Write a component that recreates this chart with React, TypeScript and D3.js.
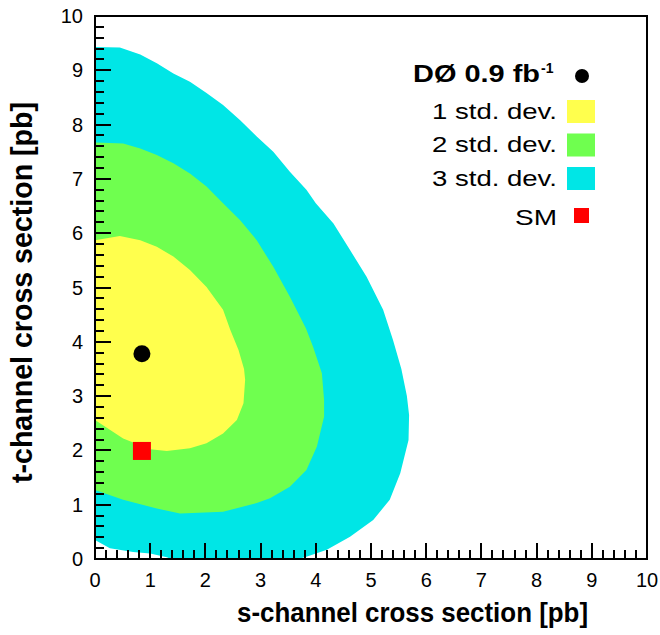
import React from "react";
import * as d3 from "d3";

const xTicks = [0, 1, 2, 3, 4, 5, 6, 7, 8, 9, 10];
const yTicks = [0, 1, 2, 3, 4, 5, 6, 7, 8, 9, 10];

// 3 std. dev. contour (s, t) in pb
const contour3: [number, number][] = [
  [0, 0.35], [0, 9.43], [0.45, 9.42], [0.82, 9.29], [1.12, 9.13], [1.42, 8.94], [1.72, 8.79],
  [2.02, 8.58], [2.32, 8.36], [2.63, 8.08], [2.93, 7.78], [3.23, 7.5], [3.53, 7.13], [3.83, 6.8],
  [4.0, 6.55], [4.32, 6.18], [4.62, 5.69], [4.92, 5.2], [5.22, 4.59], [5.4, 4.03], [5.55, 3.5],
  [5.65, 3.0], [5.69, 2.65], [5.68, 2.19], [5.53, 1.58], [5.34, 1.09], [5.04, 0.72], [4.62, 0.41],
  [4.2, 0.17], [3.83, 0.04], [3.5, -0.05], [1.5, -0.05], [1.3, 0.03], [1.0, 0.1], [0.69, 0.13],
  [0.27, 0.2], [0, 0.35],
];
// 2 std. dev. contour
const contour2: [number, number][] = [
  [0, 1.27], [0, 7.67], [0.51, 7.65], [0.82, 7.56], [1.12, 7.44], [1.42, 7.29], [1.72, 7.1],
  [2.02, 6.86], [2.32, 6.55], [2.63, 6.24], [2.93, 5.87], [3.23, 5.38], [3.53, 4.83], [3.82, 4.25],
  [3.95, 3.91], [4.11, 3.42], [4.15, 2.93], [4.15, 2.62], [4.02, 2.07], [3.83, 1.64], [3.53, 1.33],
  [3.17, 1.12], [2.93, 1.03], [2.32, 0.87], [1.54, 0.84], [1.12, 0.93], [0.51, 1.09], [0, 1.27],
];
// 1 std. dev. contour
const contour1: [number, number][] = [
  [0, 2.56], [0, 5.87], [0.45, 5.95], [0.82, 5.87], [1.12, 5.75], [1.42, 5.57], [1.72, 5.32],
  [2.02, 5.01], [2.32, 4.59], [2.45, 4.22], [2.6, 3.85], [2.7, 3.5], [2.72, 3.3], [2.69, 2.87],
  [2.57, 2.56], [2.32, 2.31], [2.02, 2.13], [1.72, 2.04], [1.3, 1.99], [1.0, 2.02], [0.51, 2.22],
  [0, 2.56],
];

const observed: [number, number] = [0.85, 3.78];
const smPoint: [number, number] = [0.85, 1.99];

const legendLabels = ["1 std. dev.", "2 std. dev.", "3 std. dev."];
const legendColors = ["#ffff4d", "#6fff4f", "#00e6e6"];

const W = 660;
const H = 635;
const L = 95, R = 647, T = 16, B = 559;

export default function App() {
  const x = d3.scaleLinear().domain([0, 10]).range([L, R]);
  const y = d3.scaleLinear().domain([0, 10]).range([B, T]);
  const area = d3
    .line<[number, number]>()
    .x((d) => x(d[0]))
    .y((d) => y(d[1]))
    .curve(d3.curveLinear);

  const minorTicks = d3.range(0, 10.001, 0.2).filter((v) => Math.abs(v - Math.round(v)) > 1e-6);
  const allTicks = [
    ...xTicks.map((t) => ({ v: t, len: 16 })),
    ...minorTicks.map((t) => ({ v: t, len: 9 })),
  ];

  const font = "'Liberation Sans', Arial, Helvetica, sans-serif";

  return (
    <svg
      width={W}
      height={H}
      style={{ position: "absolute", left: 0, top: 0, background: "#fff" }}
      fontFamily={font}
    >
      <defs>
        <clipPath id="plotclip">
          <rect x={L} y={T} width={R - L} height={B - T} />
        </clipPath>
      </defs>
      <g clipPath="url(#plotclip)">
        <path d={area(contour3) || ""} fill={legendColors[2]} />
        <path d={area(contour2) || ""} fill={legendColors[1]} />
        <path d={area(contour1) || ""} fill={legendColors[0]} />
      </g>

      <rect
        x={L}
        y={T}
        width={R - L}
        height={B - T}
        fill="none"
        stroke="#000"
        strokeWidth={2}
        shapeRendering="crispEdges"
      />

      {/* tick labels */}
      {xTicks.map((t) => (
        <text key={"xl" + t} x={x(t)} y={587} textAnchor="middle" fontSize={20}>
          {t}
        </text>
      ))}
      {yTicks.map((t) => (
        <text key={"yl" + t} x={83} y={y(t) + 7} textAnchor="end" fontSize={20}>
          {t}
        </text>
      ))}

      {/* axis titles */}
      <text x={237} y={621.5} fontSize={28} fontWeight="bold" textLength={351} lengthAdjust="spacingAndGlyphs">
        s-channel cross section [pb]
      </text>
      <text
        transform={`translate(32,483) rotate(-90)`}
        fontSize={29}
        fontWeight="bold"
        textLength={381}
        lengthAdjust="spacingAndGlyphs"
      >
        t-channel cross section [pb]
      </text>

      {/* markers */}
      <circle cx={x(observed[0])} cy={y(observed[1])} r={8.5} fill="#000" />
      <rect x={x(smPoint[0]) - 9} y={y(smPoint[1]) - 9} width={18} height={18} fill="#ff0000" />

      {/* legend */}
      <text x={413} y={82} fontSize={23} fontWeight="bold" textLength={127} lengthAdjust="spacingAndGlyphs">
        DØ 0.9 fb
      </text>
      <text x={541} y={73} fontSize={14} fontWeight="bold">
        -1
      </text>
      <circle cx={582} cy={76} r={7} fill="#000" />
      {legendLabels.map((lab, i) => (
        <g key={lab}>
          <text x={432} y={118.5 + i * 33.5} fontSize={22} textLength={125} lengthAdjust="spacingAndGlyphs">
            {lab}
          </text>
          <rect x={567} y={100 + i * 33.5} width={28} height={23} fill={legendColors[i]} />
        </g>
      ))}
      <text x={515} y={225} fontSize={22} textLength={42} lengthAdjust="spacingAndGlyphs">
        SM
      </text>
      <rect x={574} y={208} width={15} height={15} fill="#ff0000" />

      {/* axis ticks, drawn last */}
      <g fill="#000">
        {allTicks.map((tk, i) => (
          <rect key={"xt" + i} x={Math.round(x(tk.v)) - 1} y={B - tk.len} width={2} height={tk.len} />
        ))}
        {allTicks.map((tk, i) => (
          <rect key={"yt" + i} x={L} y={Math.round(y(tk.v)) - 1} width={tk.len} height={2} />
        ))}
      </g>
    </svg>
  );
}
